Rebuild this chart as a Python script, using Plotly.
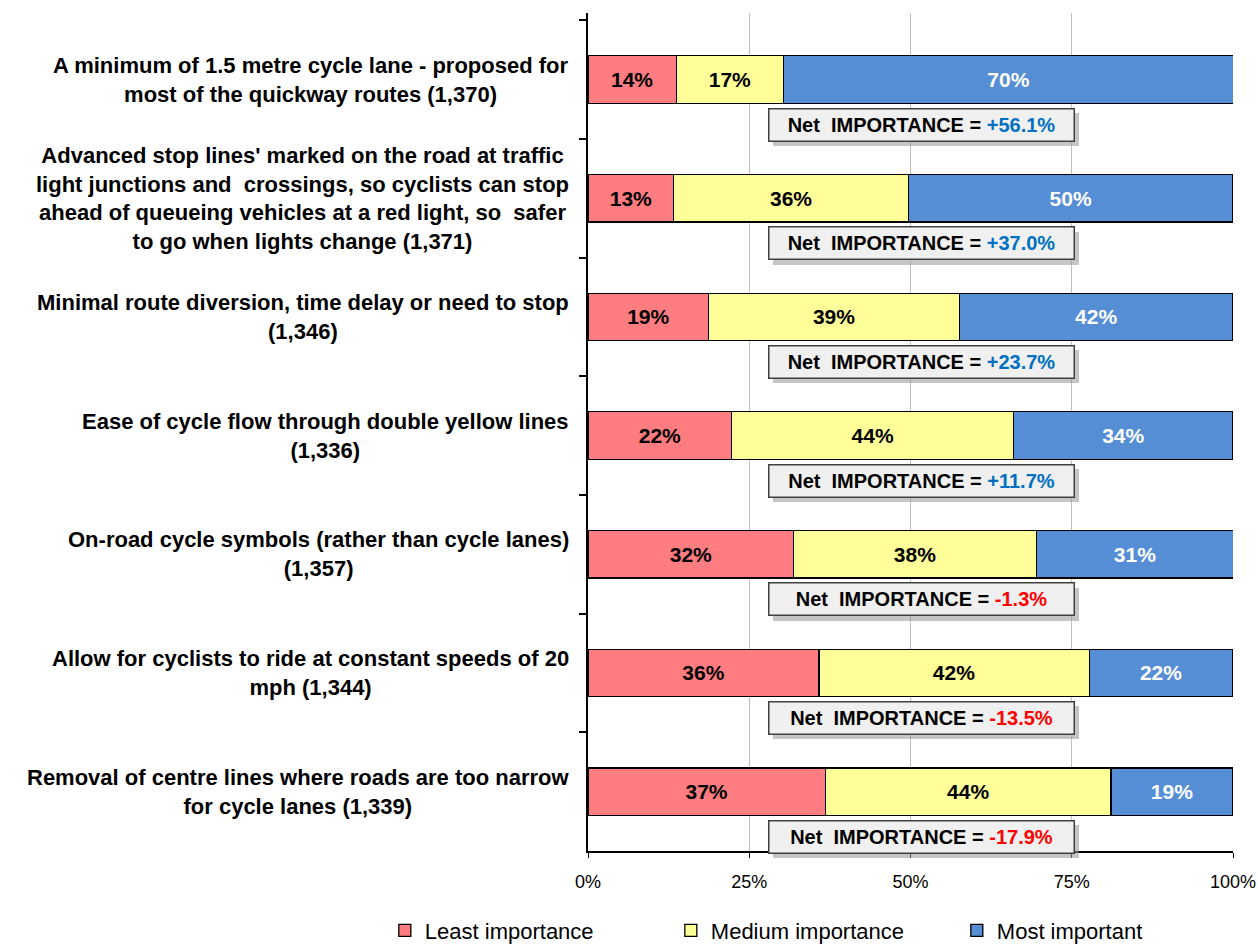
import plotly.graph_objects as go

categories = [
    "A minimum of 1.5 metre cycle lane - proposed for<br>most of the quickway routes (1,370)",
    "Advanced stop lines' marked on the road at traffic<br>light junctions and\u00a0 crossings, so cyclists can stop<br>ahead of queueing vehicles at a red light, so\u00a0 safer<br>to go when lights change (1,371)",
    "Minimal route diversion, time delay or need to stop<br>(1,346)",
    "Ease of cycle flow through double yellow lines<br>(1,336)",
    "On-road cycle symbols (rather than cycle lanes)<br>(1,357)",
    "Allow for cyclists to ride at constant speeds of 20<br>mph (1,344)",
    "Removal of centre lines where roads are too narrow<br>for cycle lanes (1,339)",
]
least = [13.7, 13.3, 18.7, 22.3, 31.9, 35.8, 36.8]
medium = [16.6, 36.4, 38.9, 43.7, 37.6, 41.9, 44.3]
most = [69.8, 50.3, 42.4, 34.0, 30.6, 22.3, 18.9]
net = [56.1, 37.0, 23.7, 11.7, -1.3, -13.5, -17.9]

series_names = ["Least importance", "Medium importance", "Most important"]
series_colors = ["#FF7C80", "#FFFF99", "#558ED5"]
text_colors = ["black", "black", "white"]
x_ticks = [0, 25, 50, 75, 100]
x_ticklabels = ["0%", "25%", "50%", "75%", "100%"]

FONT = "Liberation Sans, Arial, sans-serif"

fig = go.Figure()
for name, vals, col, tcol in zip(series_names, [least, medium, most], series_colors, text_colors):
    fig.add_trace(go.Bar(
        y=categories, x=vals, name=name, orientation="h",
        marker=dict(color=col, line=dict(color="black", width=1.3)),
        width=0.4,
        texttemplate="%{x:.0f}%", textposition="inside", insidetextanchor="middle",
        textfont=dict(family=FONT, size=21, color=tcol, weight="bold"),
        constraintext="none",
        hoverinfo="skip",
    ))

annotations = []
for cat in categories:
    annotations.append(dict(
        x=0, xref="paper", y=cat, yref="y", xanchor="right", yanchor="middle",
        xshift=-17, text="<b>" + cat + "</b>", showarrow=False, align="center",
        font=dict(family=FONT, size=22, color="black"),
    ))

for cat, n in zip(categories, net):
    col = "#0070C0" if n >= 0 else "#FF0000"
    txt = "<b>Net\u00a0 IMPORTANCE = <span style='color:%s'>%+.1f%%</span></b>" % (col, n)
    # shadow
    annotations.append(dict(
        x=0.517, xref="paper", y=cat, yref="y", xanchor="center", yanchor="middle",
        xshift=5, yshift=-50, text=" ", showarrow=False, width=302, height=29,
        bgcolor="rgba(150,150,150,0.55)", borderwidth=0, borderpad=2,
    ))
    annotations.append(dict(
        x=0.517, xref="paper", y=cat, yref="y", xanchor="center", yanchor="middle",
        yshift=-45, text=txt, showarrow=False, width=302, height=29,
        bgcolor="#F0F0F0", bordercolor="#404040", borderwidth=1.5, borderpad=1,
        font=dict(family=FONT, size=20, color="black"),
    ))

fig.update_layout(
    barmode="stack",
    width=1258, height=946,
    margin=dict(l=588, r=25, t=13, b=95, autoexpand=False),
    plot_bgcolor="white", paper_bgcolor="white",
    font=dict(family=FONT, color="black"),
    annotations=annotations,
    legend=dict(
        orientation="h", x=-0.315, xanchor="left", y=-0.095, yanchor="middle",
        font=dict(family=FONT, size=22, color="black"), entrywidth=241,
        traceorder="normal",
    ),
    xaxis=dict(
        range=[0, 100], tickvals=x_ticks, ticktext=x_ticklabels,
        showgrid=True, gridcolor="#BFBFBF", gridwidth=1,
        showline=True, linecolor="black", linewidth=2,
        ticks="outside", ticklen=5, tickcolor="black",
        tickfont=dict(family=FONT, size=18, color="black"),
        ticklabelstandoff=8, zeroline=False, fixedrange=True,
    ),
    yaxis=dict(
        type="category", categoryorder="array", categoryarray=categories,
        autorange="reversed", tickson="boundaries",
        showticklabels=False, showgrid=False,
        showline=True, linecolor="black", linewidth=2,
        ticks="outside", ticklen=7, tickcolor="black", tickwidth=1.5,
        zeroline=False, fixedrange=True,
    ),
)

fig.write_html("out.html", config={"displayModeBar": False},
               post_script="document.body.style.margin='0';")
